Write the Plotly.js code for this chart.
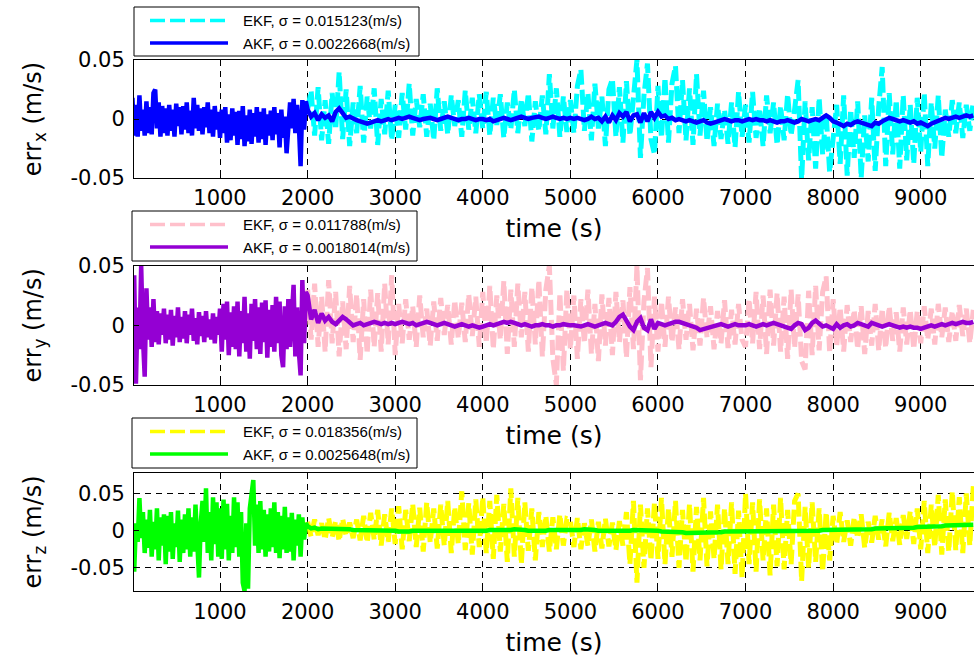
<!DOCTYPE html>
<html><head><meta charset="utf-8">
<script src="https://cdn.plot.ly/plotly-3.0.1.min.js"></script>
<style>html,body{margin:0;padding:0;background:#fff}#chart{width:974px;height:659px}</style>
</head><body><div id="chart"></div>
<script>
// ---- data (in mm/s; plotted in m/s) ----
// AKF, 0–1980 s every 20 s
const akfX_early = [18,-14,12,-15,20,-10,8,-14,15,-12, 10,-13,22,25,-8,14,-15,11,-12,9, -14,12,-10,8,-15,13,-6,10,-13,11, -9,14,-12,7,-14,18,-8,12,-10,9, -13,10,-7,14,-12,8,-15,11,-9,6, -16,8,-12,10,-20,4,-18,9,-14,6, -22,7,-17,11,-23,3,-19,8,-21,5, -15,10,-20,6,-17,9,-22,4,-14,7, -18,10,-13,5,-24,8,-16,2,-29,-6, 14,-8,17,-12,12,-5,-40,16,-9,15];
const akfY_early = [0,42,-49,15,-20,50,-10,-43,31,-12, 15,-18,22,-14,12,-16,10,-8,14,-15, 9,-12,13,-17,8,-10,15,-14,7,-11, 12,-15,9,-8,14,-13,6,-16,11,-9, 8,-14,12,-10,5,-12,10,-15,7,-8, 14,-22,18,-12,20,-25,11,-18,16,-20, 20,-26,12,-15,24,-22,10,-28,18,-13, 22,-20,15,-24,19,-14,21,-27,13,-18, 17,-22,24,-15,20,-25,-35,16,-20,22, -18,20,34,-26,15,-22,-42,38,-15,28];
const akfZ_early = [-20,-55,10,-15,44,-10,25,-30,15,-23, 28,-35,12,-25,30,-40,18,-20,22,-45, 20,-28,25,-38,10,-22,27,-42,15,-30, 22,-25,30,-35,18,-28,35,-20,-63,10, 40,-15,57,-30,25,-40,45,-18,38,-35, 30,-38,42,-25,36,-40,20,-30,45,-22, 38,-35,25,-70,-81,10,-78,30,45,68, -20,35,-30,40,-25,28,-35,22,-28,30, -22,38,-30,25,-37,20,-25,32,-30,18, -28,24,-40,15,-20,22,-35,18,-12,10];

// AKF, 2000–9600 s every 40 s
const akfX_late = [8,2,5,-1,4,1,3,-2,6,9,5,1,2,0,-1,-2,-3,-4,-3,-2,-1,-2,-1,0,-1,
 0,1,0,1,2,1,0,-1,0,1,1,0,-1,0,1,2,1,0,-1,0,0,1,0,-1,0,
 0,-1,0,-2,-1,0,1,0,-1,0,1,2,1,0,1,2,2,1,0,1,2,1,0,1,0,
 1,0,1,0,-1,0,2,0,1,-2,2,-3,3,-1,5,2,6,-2,3,4,-3,5,-2,6,1,
 6,2,3,0,1,-1,0,-1,-2,-1,-2,-3,-2,-1,-3,-4,-3,-2,-1,0,-1,-2,-1,-1,-2,
 -1,0,-1,0,-1,-1,-2,-1,-2,-3,-2,-2,-1,-2,-3,-2,0,-1,-2,-1,0,-1,1,3,1,
 -2,-3,-5,-6,-4,-5,-3,-2,-3,-4,-5,-6,-3,-4,-2,0,1,0,-1,-2,-1,-2,-3,-2,-4,
 -3,-5,-6,-4,-3,-1,0,1,0,1,2,1,2,3,2,3];
const akfY_late = [25,5,13,2,10,4,7,3,1,4,7,5,2,0,1,2,0,1,2,3,2,1,2,1,2,
 1,2,3,2,1,2,0,1,2,3,2,1,0,1,2,1,0,-1,0,1,0,-1,0,-1,-2,
 -1,0,1,0,1,2,3,2,3,2,1,0,1,0,-1,0,0,1,0,0,-1,0,0,1,0,
 0,0,-1,-1,0,1,0,-1,0,1,2,1,0,3,7,9,4,-1,-4,3,6,-2,-4,5,-3,
 2,1,0,1,2,3,3,2,1,0,-1,-2,-4,-3,-2,-1,0,0,1,0,-1,0,1,0,0,
 0,1,0,-1,0,1,0,1,2,1,0,-1,-2,-3,0,2,1,-4,-2,2,4,1,-1,0,-2,
 -3,1,-2,0,1,-1,0,2,1,0,-1,2,1,0,-1,0,1,0,-1,-2,-1,-2,-1,-2,-2,
 -3,-2,-1,0,-1,0,1,0,1,2,1,2,3,2,2,3];
const akfZ_late = [6,3,4,2,3,3,2,3,2,2,3,2,2,1,1,1,0,0,0,0,0,0,0,0,0,
 0,-1,-1,-2,-1,0,0,-1,0,0,0,0,0,0,-1,0,0,0,0,0,-1,0,0,0,0,
 0,0,1,1,0,0,0,1,1,2,2,1,1,0,0,-1,-1,0,0,1,1,0,0,0,0,
 0,1,1,1,2,2,2,1,0,0,-1,-1,0,0,0,-1,-1,0,1,1,1,1,0,0,0,
 0,-1,-1,-1,-2,-2,-2,-2,-3,-3,-3,-3,-3,-3,-2,-2,-2,-2,-2,-1,-1,-1,-1,-1,-1,
 -1,-1,-1,-1,0,0,0,0,0,0,0,0,0,0,0,0,0,0,0,0,0,0,1,1,1,
 1,2,2,1,1,1,1,2,2,2,2,2,3,3,3,3,3,3,3,3,4,4,4,4,5,
 5,5,6,6,6,6,6,7,7,7,7,8,8,8,8,8];

// EKF, 2000–9600 s every 40 s
const ekfX = [8,24,-14,27,-18,16,-21,22,-9,40,-17,25,-23,14,-12,28,-20,19,-8,26,-22,17,-13,24,-18,
 12,-16,22,-9,30,-14,17,-7,21,-15,13,-18,26,-10,15,-13,20,-6,16,-15,24,-9,18,-12,21,
 -8,23,-14,18,-5,21,-16,14,-9,25,-12,17,-6,22,-19,15,-10,20,-13,38,-8,26,-15,19,-11,
 16,-12,28,42,-10,22,-18,30,-8,19,-23,25,34,-15,27,-20,32,-14,24,50,-33,20,47,-17,-30,
 28,-16,35,-20,30,45,-12,33,-18,26,-22,38,-14,24,-19,10,-23,13,-17,8,-21,14,-24,23,-15,
 12,-20,23,-16,9,-23,20,-12,14,-22,11,-18,21,-14,8,33,-52,15,-35,10,-42,18,-30,5,-45,
 -20,12,-38,20,-48,8,-33,15,-50,3,-36,18,-44,10,44,-40,22,-30,16,-42,20,-35,12,-38,18,
 -28,22,-40,14,-25,20,-33,8,-15,16,-12,14,-16,12,-10,15];
const ekfY = [30,-12,35,-18,24,-22,38,-15,28,-26,20,-20,33,-14,26,-29,22,-24,30,-18,27,-22,35,-16,42,
 -25,18,-15,22,-12,16,-18,25,-10,14,-17,20,-13,23,-8,17,-16,21,-11,19,-14,26,-9,24,-18,
 28,-15,33,-20,25,-12,37,-24,30,-18,35,-10,28,-22,32,-16,38,-26,30,50,-28,-50,27,-38,30,
 -20,25,-28,22,-15,30,-24,18,-30,26,-17,23,-25,28,-14,21,-27,32,-20,50,-46,20,48,-35,24,
 -22,20,-18,24,-14,15,-20,22,-12,18,-21,14,-17,23,-10,16,-20,12,-15,21,-19,13,-16,18,-12,
 -18,22,-15,28,-20,25,-24,30,-17,27,-22,24,-28,30,-19,26,-30,-37,29,-25,33,-21,28,41,-23,
 22,-18,15,-22,17,-14,13,-20,16,-24,12,-17,18,-21,14,-19,16,-13,11,-22,15,-16,13,-20,12,
 -15,16,-12,14,-16,18,-10,15,-14,12,-13,17,-9,14,-15,13];
const ekfZ = [12,-8,15,-6,10,-12,17,-9,13,-14,16,-7,11,-10,15,-13,20,-16,24,-12,28,-20,22,-15,30,
 -18,33,-25,28,-14,36,-22,31,-28,38,-16,30,-24,35,-20,40,-30,32,-18,53,-26,37,-32,42,-22,
 45,-30,40,-38,48,-28,36,-42,57,-35,44,-45,38,-27,30,-40,25,-22,20,-28,18,-25,22,-20,16,
 14,-22,17,-25,10,-20,15,-28,12,-24,16,-21,11,-26,13,-20,25,-45,40,-70,35,-50,30,-40,38,
 -38,44,-45,30,-35,40,-50,28,-42,36,-55,32,-40,44,-48,26,-38,35,-52,30,-45,38,-58,27,-63,
 50,-45,38,-55,42,-40,30,-60,35,-48,44,-52,28,-45,40,50,-68,32,-50,38,-42,30,-55,25,-40,
 20,-18,25,-15,14,-20,18,-10,22,-23,12,-16,20,-12,15,-21,24,-14,17,-19,21,-11,26,-18,30,
 -25,40,-30,35,-22,48,-32,42,-28,53,-26,45,-30,50,-20,60];

const legendEKF = ['EKF, \u03c3 = 0.015123(m/s)', 'EKF, \u03c3 = 0.011788(m/s)', 'EKF, \u03c3 = 0.018356(m/s)'];
const legendAKF = ['AKF, \u03c3 = 0.0022668(m/s)', 'AKF, \u03c3 = 0.0018014(m/s)', 'AKF, \u03c3 = 0.0025648(m/s)'];
const yTitles = ['err<sub>x</sub> (m/s)', 'err<sub>y</sub> (m/s)', 'err<sub>z</sub> (m/s)'];
const xTitle = 'time (s)';
const xTickVals = [1000,2000,3000,4000,5000,6000,7000,8000,9000];
const xTickText = ['1000','2000','3000','4000','5000','6000','7000','8000','9000'];
const yTickVals = [-0.05, 0, 0.05];
const yTickText = ['-0.05', '0', '0.05'];

// ---- build ----
const toMS = a => a.map(v => v / 1000);
const tEarly = akfX_early.map((_, i) => i * 20);
const tLate = ekfX.map((_, i) => 2000 + i * 40);
const tAKF = tEarly.concat(tLate);

const W = 974, H = 659;
const px = x => x / W;
const py = y => 1 - y / H;

const ekfColors = ['#00FFFF', '#FFC0CB', '#FFFF00'];
const akfColors = ['#0000FF', '#9400D3', '#00FF00'];
const ekfSets = [ekfX, ekfY, ekfZ];
const akfSets = [akfX_early.concat(akfX_late), akfY_early.concat(akfY_late), akfZ_early.concat(akfZ_late)];

const panels = [[60, 178], [265.7, 385], [472.7, 591.3]];
const yRanges = [[-0.05, 0.05], [-0.05, 0.05], [-0.0815, 0.078]];
const legendBoxes = [[134, 7, 419, 56], [132, 211, 417, 261], [132, 418, 417, 468]];

const FONT = 'DejaVu Sans';
const LFONT = 'Liberation Sans';
const PAD = '\u00a0\u00a0\u00a0';
const data = [];
const layout = {
  width: W, height: H,
  margin: {l: 0, r: 0, t: 0, b: 0},
  paper_bgcolor: '#fff', plot_bgcolor: '#fff',
  showlegend: false,
  shapes: [], annotations: []
};

for (let k = 0; k < 3; k++) {
  const sfx = k === 0 ? '' : String(k + 1);
  data.push({
    x: tLate, y: toMS(ekfSets[k]), type: 'scatter', mode: 'lines',
    xaxis: 'x' + sfx, yaxis: 'y' + sfx, name: legendEKF[k],
    line: {color: ekfColors[k], width: 5, dash: '15px,5px'}, hoverinfo: 'skip'
  });
  data.push({
    x: tAKF, y: toMS(akfSets[k]), type: 'scatter', mode: 'lines',
    xaxis: 'x' + sfx, yaxis: 'y' + sfx, name: legendAKF[k],
    line: {color: akfColors[k], width: 4.5}, hoverinfo: 'skip'
  });
  const [top, bot] = panels[k];
  layout['xaxis' + sfx] = {
    domain: [px(134), 1], range: [18, 9608], anchor: 'y' + sfx,
    tickmode: 'array', tickvals: xTickVals, ticktext: xTickText,
    ticks: 'inside', ticklen: 5, tickcolor: '#000', ticklabelstandoff: 1,
    showline: true, linecolor: '#000', linewidth: 1, mirror: 'ticks',
    showgrid: true, gridcolor: '#000', gridwidth: 1, griddash: '6px,5px',
    zeroline: false, automargin: false, tickfont: {family: FONT, size: 21, color: '#000'},
    title: {text: xTitle, standoff: 10, font: {family: FONT, size: 25, color: '#000'}}
  };
  layout['yaxis' + sfx] = {
    domain: [py(bot), py(top)], range: yRanges[k], anchor: 'x' + sfx,
    tickmode: 'array', tickvals: yTickVals, ticktext: yTickText,
    ticks: 'inside', ticklen: 5, tickcolor: '#000', ticklabelstandoff: 4,
    showline: true, linecolor: '#000', linewidth: 1, mirror: false,
    showgrid: true, gridcolor: '#000', gridwidth: 1, griddash: '6px,5px',
    zeroline: false, automargin: false, tickfont: {family: FONT, size: 21, color: '#000'},
    title: {text: yTitles[k] + PAD, standoff: 22, font: {family: FONT, size: 24, color: '#000'}}
  };
  // legend box
  const [lx0, ly0, lx1, ly1] = legendBoxes[k];
  layout.shapes.push({type: 'rect', xref: 'paper', yref: 'paper',
    x0: px(lx0), x1: px(lx1), y0: py(ly1), y1: py(ly0),
    line: {color: '#000', width: 1}, fillcolor: '#fff', layer: 'above'});
  const e1 = ly0 + 13.5, e2 = ly0 + 36;
  layout.shapes.push({type: 'line', xref: 'paper', yref: 'paper',
    x0: px(150), x1: px(228), y0: py(e1), y1: py(e1),
    line: {color: ekfColors[k], width: 3.5, dash: '15px,5px'}});
  layout.shapes.push({type: 'line', xref: 'paper', yref: 'paper',
    x0: px(150), x1: px(228), y0: py(e2), y1: py(e2),
    line: {color: akfColors[k], width: 3.5}});
  layout.annotations.push({xref: 'paper', yref: 'paper', x: px(241), y: py(e1),
    xanchor: 'left', yanchor: 'middle', showarrow: false, text: legendEKF[k],
    font: {family: LFONT, size: 15, color: '#000'}});
  layout.annotations.push({xref: 'paper', yref: 'paper', x: px(241), y: py(e2),
    xanchor: 'left', yanchor: 'middle', showarrow: false, text: legendAKF[k],
    font: {family: LFONT, size: 15, color: '#000'}});
}

Plotly.newPlot('chart', data, layout, {staticPlot: true, displayModeBar: false});
</script>
</body></html>
